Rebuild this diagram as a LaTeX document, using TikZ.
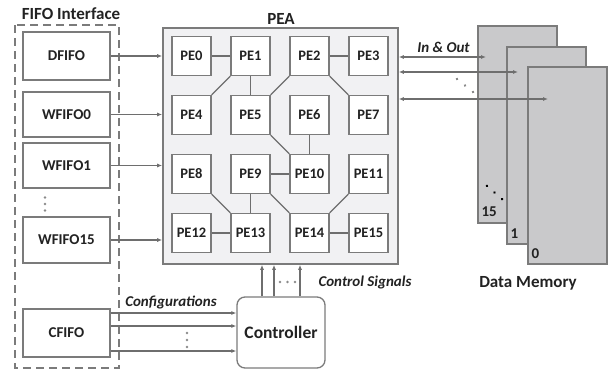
\documentclass[tikz,border=0pt]{standalone}
\usepackage{fontspec}
\setmainfont{Carlito}
\usetikzlibrary{arrows.meta}
\definecolor{edgegray}{HTML}{7B7B7B}
\definecolor{wiregray}{HTML}{6E6E6E}
\definecolor{dotgray}{HTML}{8A8A8A}
\definecolor{peafill}{HTML}{F1F1F3}
\definecolor{memfill}{HTML}{C9C9CB}
\definecolor{inkgray}{HTML}{222222}
\newcommand{\threedots}[4]{
\begin{scope}[shift={#1},rotate=#2]
\fill[#4] (-#3,0) circle (1.4pt);
\fill[#4] (0,0) circle (1.4pt);
\fill[#4] (#3,0) circle (1.4pt);
\end{scope}
}
\tikzset{
pebox/.style={draw=edgegray,fill=white,line width=1.3pt,minimum width=39pt,minimum height=39pt,inner sep=0pt,text=inkgray,font=\bfseries\fontsize{14.5}{16}\selectfont},
fifobox/.style={draw=edgegray,fill=white,line width=1.3pt,minimum width=87pt,inner sep=0pt,text=inkgray,font=\bfseries\fontsize{15}{17}\selectfont},
membox/.style={draw=edgegray,fill=memfill,line width=1.3pt,minimum width=79pt,minimum height=197pt,inner sep=0pt},
memnum/.style={anchor=base west,inner sep=0pt,text=inkgray,font=\bfseries\fontsize{15}{17}\selectfont},
link/.style={draw=wiregray,line width=1.2pt},
arr/.style={draw=wiregray,line width=1.2pt,-{Latex[length=5pt,width=4pt]}},
biarr/.style={draw=wiregray,line width=1.2pt,{Latex[length=5pt,width=4pt]}-{Latex[length=5pt,width=4pt]}},
title/.style={text=inkgray,font=\bfseries\fontsize{17}{20}\selectfont},
sig/.style={text=inkgray,font=\bfseries\itshape\fontsize{15}{17}\selectfont}
}

\begin{document}
\begin{tikzpicture}[x=1pt,y=-1pt]
\useasboundingbox (0,0) rectangle (608,372);

\node (pea) [draw=edgegray,fill=peafill,line width=1.6pt,minimum width=235pt,minimum height=236pt] at (280.5,146) {};
\node (pealabel) [title] at (281,19) {PEA};

\node (pe0) [pebox] at (191.5,56) {PE0};
\node (pe1) [pebox] at (250.5,56) {PE1};
\node (pe2) [pebox] at (309.5,56) {PE2};
\node (pe3) [pebox] at (368.5,56) {PE3};
\node (pe4) [pebox] at (191.5,115) {PE4};
\node (pe5) [pebox] at (250.5,115) {PE5};
\node (pe6) [pebox] at (309.5,115) {PE6};
\node (pe7) [pebox] at (368.5,115) {PE7};
\node (pe8) [pebox] at (191.5,174) {PE8};
\node (pe9) [pebox] at (250.5,174) {PE9};
\node (pe10) [pebox] at (309.5,174) {PE10};
\node (pe11) [pebox] at (368.5,174) {PE11};
\node (pe12) [pebox] at (191.5,233) {PE12};
\node (pe13) [pebox] at (250.5,233) {PE13};
\node (pe14) [pebox] at (309.5,233) {PE14};
\node (pe15) [pebox] at (368.5,233) {PE15};

\draw[link] (pe0) -- (pe1);
\draw[link] (pe2) -- (pe3);
\draw[link] (pe1) -- (pe5);
\draw[link] (pe1.south west) -- (pe4.north east);
\draw[link] (pe2.south west) -- (pe5.north east);
\draw[link] (pe2.south east) -- (pe7.north west);
\draw[link] (pe5.south east) -- (pe10.north west);
\draw[link] (pe6) -- (pe10);
\draw[link] (pe9) -- (pe10);
\draw[link] (pe9) -- (pe13);
\draw[link] (pe8.south east) -- (pe13.north west);
\draw[link] (pe9.south east) -- (pe14.north west);
\draw[link] (pe11.south west) -- (pe14.north east);
\draw[link] (pe12) -- (pe13);
\draw[link] (pe14) -- (pe15);

\draw[draw=edgegray,line width=1.2pt,dash pattern=on 8pt off 5pt] (15,25) rectangle (119,368);
\node (fifolabel) [title] at (71,14) {FIFO Interface};

\node (dfifo) [fifobox,minimum height=48pt] at (66.5,56) {DFIFO};
\node (wfifo0) [fifobox,minimum height=45pt] at (66.5,114.5) {WFIFO0};
\node (wfifo1) [fifobox,minimum height=45pt] at (66.5,165.5) {WFIFO1};
\node (wfifo15) [fifobox,minimum height=46pt] at (66.5,240) {WFIFO15};
\node (cfifo) [fifobox,minimum height=48pt] at (66.5,333) {CFIFO};
\threedots{(45,204)}{90}{6.5}{dotgray};

\draw[arr] (dfifo) -- (dfifo -| pea.west);
\draw[arr] (wfifo0) -- (wfifo0 -| pea.west);
\draw[arr] (wfifo1) -- (wfifo1 -| pea.west);
\draw[arr] (wfifo15) -- (wfifo15 -| pea.west);

\node (ctrl) [draw=edgegray,fill=white,line width=1.3pt,rounded corners=8pt,minimum width=88pt,minimum height=71pt,text=inkgray,font=\bfseries\fontsize{17.5}{20}\selectfont] at (281,332.5) {Controller};

\draw[arr] ([yshift=20pt]cfifo.east) -- ([yshift=20pt]cfifo.east -| ctrl.west);
\draw[arr] ([yshift=7pt]cfifo.east) -- ([yshift=7pt]cfifo.east -| ctrl.west);
\draw[arr] ([yshift=-18pt]cfifo.east) -- ([yshift=-18pt]cfifo.east -| ctrl.west);
\threedots{(187,340)}{90}{7}{dotgray};
\node (cfglabel) [sig] at (171,302) {Configurations};

\draw[arr] ([xshift=-19pt]ctrl.north) -- ([xshift=-19pt]ctrl.north |- pea.south);
\draw[arr] ([xshift=-7pt]ctrl.north) -- ([xshift=-7pt]ctrl.north |- pea.south);
\draw[arr] ([xshift=19pt]ctrl.north) -- ([xshift=19pt]ctrl.north |- pea.south);
\threedots{(287.5,282)}{0}{7.5}{dotgray};
\node (ctllabel) [sig] at (365,282) {Control Signals};

\node (mem15) [membox] at (517.5,124.5) {};
\node (mem15num) [memnum] at ([xshift=4pt,yshift=7pt]mem15.south west) {15};
\node (mem1) [membox] at (546.5,145.5) {};
\node (mem1num) [memnum] at ([xshift=4pt,yshift=6.5pt]mem1.south west) {1};
\node (mem0) [membox] at (567.5,165.5) {};
\node (mem0num) [memnum] at ([xshift=4pt,yshift=6.5pt]mem0.south west) {0};
\threedots{(494.5,192.5)}{-41}{10}{black};
\node (memlabel) [title] at (528,283) {Data Memory};

\coordinate (io0) at (486,57);
\coordinate (io1) at (518,72);
\coordinate (io2) at (548,99);
\draw[biarr] (io0 -| pea.east) -- (io0);
\draw[biarr] (io1 -| pea.east) -- (io1);
\draw[biarr] (io2 -| pea.east) -- (io2);
\threedots{(465,85.5)}{-39}{10.3}{dotgray};
\node (iolabel) [sig] at (443.5,47) {In \& Out};

\end{tikzpicture}
\end{document}
